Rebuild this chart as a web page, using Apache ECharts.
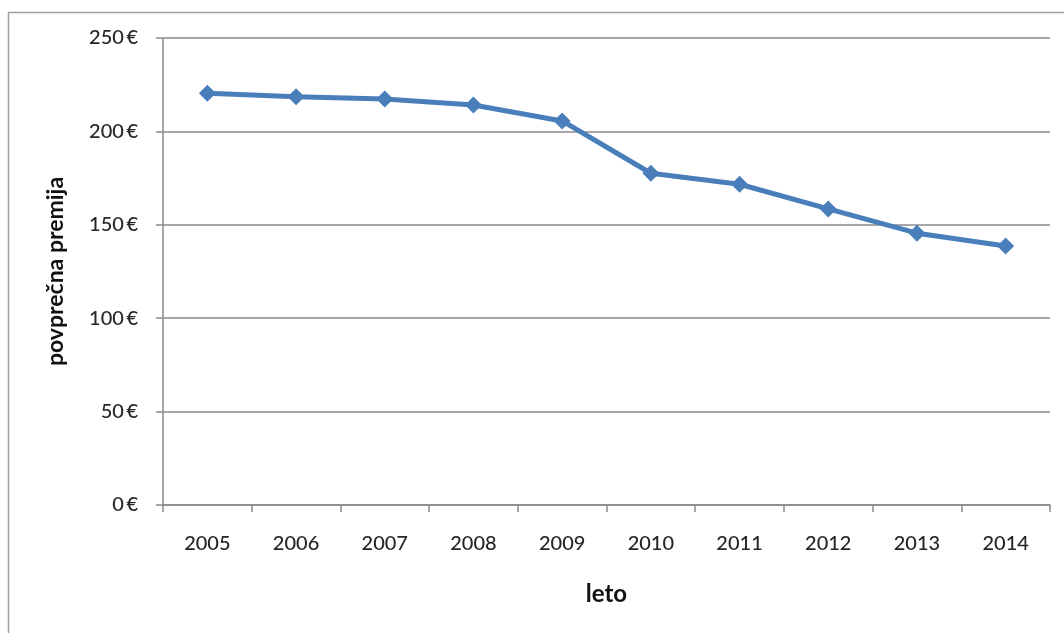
<!DOCTYPE html>
<html>
<head>
<meta charset="utf-8">
<script src="https://cdn.jsdelivr.net/npm/echarts@6/dist/echarts.min.js"></script>
<style>
  html, body { margin: 0; padding: 0; background: #ffffff; }
  #chart { width: 1064px; height: 633px; }
</style>
</head>
<body>
<div id="chart"></div>
<script>
// Average premium per year (EUR)
const years = ['2005', '2006', '2007', '2008', '2009', '2010', '2011', '2012', '2013', '2014'];
const premium = [220.4, 218.6, 217.3, 214.1, 205.6, 177.6, 171.7, 158.5, 145.5, 138.7];
const yTicks = [0, 50, 100, 150, 200, 250];

const FONT = 'Lato';
const chart = echarts.init(document.getElementById('chart'), null, { renderer: 'canvas' });

chart.setOption({
  backgroundColor: '#ffffff',
  animation: false,
  graphic: [{
    type: 'rect',
    shape: { x: 8.5, y: 12.5, width: 1100, height: 700 },
    style: { fill: 'none', stroke: '#a0a0a0', lineWidth: 1.5 },
    silent: true
  }],
  grid: { left: 163, top: 38, right: 14, bottom: 128, containLabel: false },
  xAxis: {
    type: 'category',
    data: years,
    boundaryGap: true,
    name: 'leto',
    nameLocation: 'middle',
    nameGap: 77,
    nameTextStyle: { fontFamily: FONT, fontSize: 24, fontWeight: 'bold', color: '#111' },
    axisLine: { lineStyle: { color: '#8a8a8a', width: 1.5 } },
    axisTick: { show: true, alignWithLabel: false, length: 7, lineStyle: { color: '#8a8a8a', width: 1.5 } },
    axisLabel: { fontFamily: FONT, fontSize: 20, fontWeight: 500, color: '#262626', margin: 29 },
    splitLine: { show: false }
  },
  yAxis: {
    type: 'value',
    min: yTicks[0],
    max: yTicks[yTicks.length - 1],
    interval: yTicks[1] - yTicks[0],
    name: 'povprečna premija',
    nameLocation: 'middle',
    nameGap: 96,
    nameTextStyle: { fontFamily: FONT, fontSize: 23, fontWeight: 'bold', color: '#111' },
    axisLine: { show: true, lineStyle: { color: '#8a8a8a', width: 1.5 } },
    axisTick: { show: true, length: 7, lineStyle: { color: '#8a8a8a', width: 1.5 } },
    axisLabel: { fontFamily: FONT, fontSize: 20, fontWeight: 500, color: '#262626', margin: 25, formatter: '{value}\u2009€' },
    splitLine: { show: true, lineStyle: { color: '#8a8a8a', width: 1.5 } }
  },
  series: [{
    type: 'line',
    data: premium,
    symbol: 'diamond',
    symbolSize: 17,
    lineStyle: { color: '#4a7ebb', width: 5 },
    itemStyle: { color: '#4a7ebb' }
  }]
});
</script>
</body>
</html>
